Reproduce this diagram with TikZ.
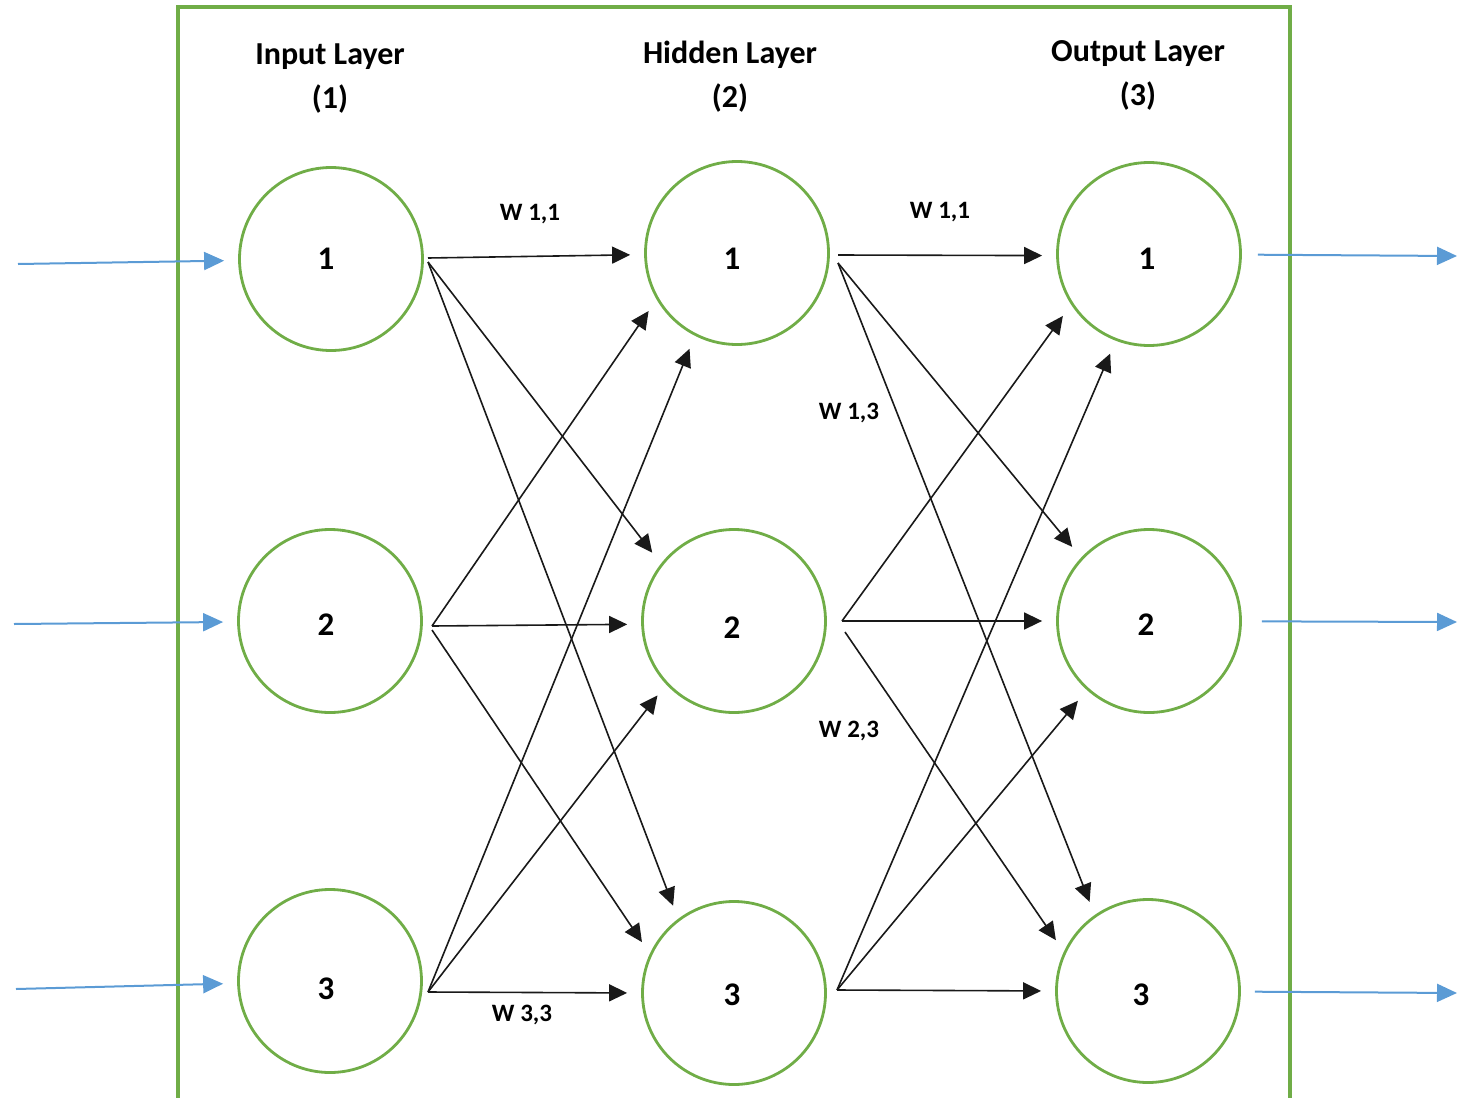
\documentclass[tikz,border=0pt]{standalone}
\usepackage{fontspec}
\setmainfont{Carlito}
\usetikzlibrary{arrows.meta}
\definecolor{nodegreen}{RGB}{112,173,71}
\definecolor{flowblue}{RGB}{91,155,213}

\begin{document}
\begin{tikzpicture}[x=0.5pt,y=-0.5pt,
  neuron/.style={circle, draw=nodegreen, line width=1.4pt, minimum size=91.5pt, inner sep=0pt},
  digit/.style={font=\bfseries\fontsize{16.5}{18}\selectfont, inner sep=0pt},
  title/.style={font=\bfseries\fontsize{16}{22}\selectfont, align=center},
  wlabel/.style={font=\bfseries\fontsize{12.5}{14}\selectfont},
  link/.style={draw=black!90, line width=0.8pt, -{Triangle[length=9pt,width=8.5pt]}, shorten >=7pt},
  flow/.style={draw=flowblue, line width=1pt, -{Triangle[length=10pt,width=9pt]}}
]
\clip (0,0) rectangle (1458,1098);

% frame, open at the bottom
\draw[nodegreen, line width=1.6pt] (178,1110) -- (178,7) -- (1290,7) -- (1290,1110);

% layer titles
\node[title] (t-in)  at (330,79)   {Input Layer\\(1)};
\node[title] (t-hid) at (730,77)   {Hidden Layer\\(2)};
\node[title] (t-out) at (1138,75.5) {Output Layer\\(3)};

% neurons
\node[neuron] (i1) at (331,259) {};
\node[neuron] (i2) at (330,621) {};
\node[neuron] (i3) at (330,981) {};
\node[neuron] (h1) at (737,253) {};
\node[neuron] (h2) at (734,621) {};
\node[neuron] (h3) at (734,993) {};
\node[neuron] (o1) at (1149,254) {};
\node[neuron] (o2) at (1149,621) {};
\node[neuron] (o3) at (1148,991) {};

% neuron numbers
\node[digit] (i1-n) at (326,259) {1};
\node[digit] (i2-n) at (326,625) {2};
\node[digit] (i3-n) at (326,989) {3};
\node[digit] (h1-n) at (732,259) {1};
\node[digit] (h2-n) at (732,628) {2};
\node[digit] (h3-n) at (732,995) {3};
\node[digit] (o1-n) at (1147,259) {1};
\node[digit] (o2-n) at (1146,625) {2};
\node[digit] (o3-n) at (1141,995) {3};

% fan-out points of the weighted connections
\coordinate (i1a) at (428,258);
\coordinate (i1b) at (428,262);
\coordinate (i2a) at (432,626);
\coordinate (i2b) at (432,630);
\coordinate (i3a) at (428,992);
\coordinate (h1a) at (838,255);
\coordinate (h1b) at (838,263);
\coordinate (h2a) at (842,621);
\coordinate (h2b) at (845,632);
\coordinate (h3a) at (837,990);

% input -> hidden
\draw[link] (i1a) -- (h1.181);
\draw[link] (i1b) -- (h2.142);
\draw[link] (i1b) -- (h3.127);
\draw[link] (i2a) -- (h1.210);
\draw[link] (i2a) -- (h2.182);
\draw[link] (i2b) -- (h3.155);
\draw[link] (i3a) -- (h1.243);
\draw[link] (i3a) -- (h2.223);
\draw[link] (i3a) -- (h3.180);

% hidden -> output
\draw[link] (h1a) -- (o1.181);
\draw[link] (h1b) -- (o2.137);
\draw[link] (h1b) -- (o3.125);
\draw[link] (h2a) -- (o1.213);
\draw[link] (h2a) -- (o2.180);
\draw[link] (h2b) -- (o3.155);
\draw[link] (h3a) -- (o1.249);
\draw[link] (h3a) -- (o2.228);
\draw[link] (h3a) -- (o3.180);

% weight labels
\node[wlabel] (w1) at (530,214)  {W 1,1};
\node[wlabel] (w2) at (940,212)  {W 1,1};
\node[wlabel] (w3) at (849,413)  {W 1,3};
\node[wlabel] (w4) at (849,731)  {W 2,3};
\node[wlabel] (w5) at (522,1015) {W 3,3};

% external inputs and outputs
\coordinate (in1) at (18,264);
\coordinate (in2) at (14,624);
\coordinate (in3) at (16,989);
\coordinate (out1) at (1457,256);
\coordinate (out2) at (1457,622);
\coordinate (out3) at (1457,993);
\draw[flow, shorten >=7pt] (in1) -- (i1);
\draw[flow, shorten >=7pt] (in2) -- (i2);
\draw[flow, shorten >=7pt] (in3) -- (i3);
\draw[flow, shorten <=8pt] (o1) -- (out1);
\draw[flow, shorten <=10pt] (o2) -- (out2);
\draw[flow, shorten <=7pt] (o3) -- (out3);
\end{tikzpicture}
\end{document}
